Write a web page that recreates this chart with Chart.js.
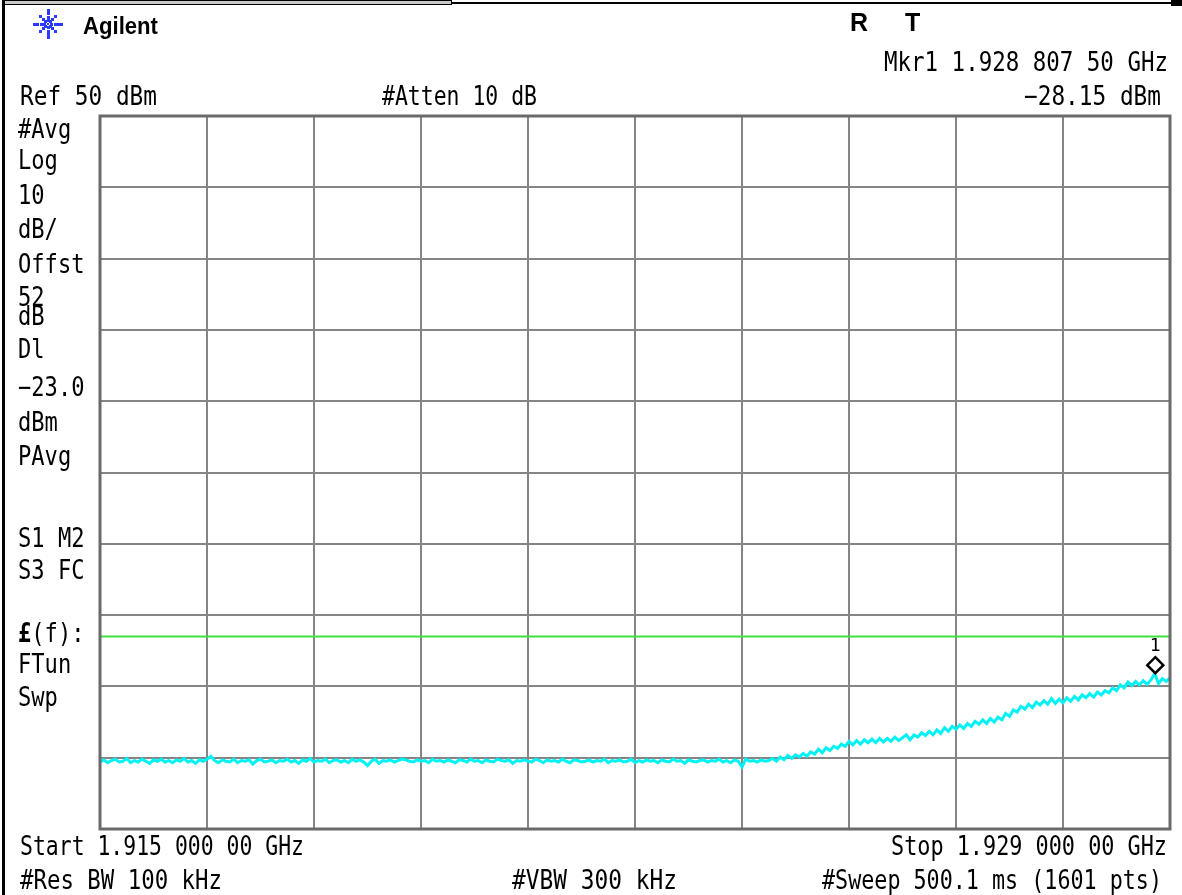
<!DOCTYPE html>
<html>
<head>
<meta charset="utf-8">
<script src="https://cdn.jsdelivr.net/npm/chart.js@4.4.1/dist/chart.umd.min.js"></script>
<style>
html,body{margin:0;padding:0;background:#fff}
body{width:1182px;height:895px;overflow:hidden;position:relative}
#c{position:absolute;left:0;top:0}
.t{position:absolute;white-space:pre;color:#000;font-family:"DejaVu Sans Mono",monospace;font-size:26px;line-height:30px;transform-origin:0 0}
.f{position:absolute;background:#000}
</style>
</head>
<body>
<canvas id="c" width="1182" height="895"></canvas>
<div class="f" style="left:2px;top:0;width:3px;height:895px"></div>
<div class="f" style="left:4px;top:0;width:448px;height:5px;background:#c8c8c8;border:1px solid #000;box-sizing:border-box"></div>
<div class="f" style="left:452px;top:2px;width:720px;height:2px"></div>
<div class="f" style="left:1171px;top:0;width:11px;height:6px"></div>
<script>
// ---- Instrument settings / axis ----
const startGHz = 1.915;
const stopGHz = 1.929;
const refLevelDbm = 50;
const bottomLevelDbm = -50;
const xGridGHz = [1.915,1.9164,1.9178,1.9192,1.9206,1.922,1.9234,1.9248,1.9262,1.9276,1.929];
const yGridDbm = [-50,-40,-30,-20,-10,0,10,20,30,40,50];

// Display line
const displayLineDbm = -23.0;

// Marker 1
const markerGHz = 1.9288075;
const markerDbm = -28.15;
const markerLabel = "1";

// Trace (dBm), evenly spaced across the sweep (start -> stop)
const traceDbm = [
-40.6,-40.3,-40.7,-40.4,-40.2,-40.6,-40.5,-40.1,-40.7,-40.4,-40.6,-40.2,-40.5,-40.8,-40.3,-40.5,
-40.2,-40.6,-40.4,-40.7,-40.3,-40.5,-40.1,-40.6,-40.4,-40.8,-40.3,-40.5,-40.2,-39.8,-40.4,-40.7,
-40.3,-40.5,-40.6,-40.2,-40.7,-40.4,-40.5,-40.3,-40.9,-40.4,-40.2,-40.6,-40.5,-40.3,-40.7,-40.4,
-40.5,-40.2,-40.6,-40.4,-40.8,-40.3,-40.5,-40.1,-40.6,-40.4,-40.5,-40.2,-40.7,-40.4,-40.3,-40.6,
-40.4,-40.7,-40.2,-40.5,-40.3,-40.6,-41.1,-40.5,-40.2,-40.8,-40.4,-40.5,-40.3,-40.6,-40.4,-40.2,
-40.3,-40.5,-40.6,-40.3,-40.5,-40.4,-40.7,-40.2,-40.5,-40.4,-40.6,-40.3,-40.5,-40.7,-40.3,-40.4,
-40.6,-40.2,-40.5,-40.4,-40.7,-40.3,-40.5,-40.6,-40.2,-40.4,-40.5,-40.3,-40.8,-40.4,-40.5,-40.3,
-40.5,-40.6,-40.2,-40.4,-40.7,-40.3,-40.5,-40.4,-40.6,-40.2,-40.5,-40.7,-40.3,-40.4,-40.6,-40.5,
-40.3,-40.6,-40.4,-40.5,-40.2,-40.7,-40.4,-40.5,-40.3,-40.6,-40.5,-40.2,-40.7,-40.4,-40.6,-40.3,
-40.5,-40.4,-40.7,-40.3,-40.5,-40.6,-40.2,-40.5,-40.4,-40.8,-40.3,-40.5,-40.6,-40.4,-40.3,-40.6,
-40.4,-40.5,-40.2,-40.6,-40.4,-40.7,-40.3,-40.5,-41.3,-40.2,-40.5,-40.4,-40.6,-40.3,-40.5,-40.4,
-40.1,-40.5,-39.9,-40.3,-39.7,-40.1,-39.6,-39.9,-39.4,-39.8,-39.2,-39.5,-38.8,-39.3,-38.6,-39.0,
-38.4,-38.7,-38.1,-38.4,-37.7,-38.2,-37.6,-38.1,-37.5,-37.9,-37.4,-37.9,-37.3,-37.8,-37.3,-37.7,
-37.1,-37.6,-37.2,-36.8,-37.5,-36.8,-37.1,-36.5,-36.9,-36.3,-36.8,-36.1,-36.6,-35.8,-36.3,-35.6,
-36.0,-35.4,-35.9,-35.2,-35.6,-34.9,-35.3,-34.7,-35.2,-34.5,-35.0,-34.3,-34.7,-33.8,-34.2,-33.3,
-33.6,-32.8,-33.2,-32.5,-33.0,-32.2,-32.6,-32.0,-32.5,-31.7,-32.4,-31.8,-32.3,-31.6,-32.1,-31.4,
-31.9,-31.2,-31.6,-31.0,-31.5,-30.8,-31.2,-30.6,-30.9,-30.2,-30.6,-29.8,-30.2,-29.4,-29.9,-29.3,
-29.8,-29.2,-29.7,-29.1,-28.2,-29.6,-28.9,-29.3,-28.8
];

const tracePoints = traceDbm.map((v, i) => ({
  x: startGHz + i * (stopGHz - startGHz) / (traceDbm.length - 1),
  y: v
}));

const framePlugin = {
  id: 'frame',
  afterDatasetsDraw(chart) {
    const {ctx, chartArea: a, scales} = chart;
    // plot border
    ctx.save();
    ctx.strokeStyle = '#6a6a6a';
    ctx.lineWidth = 3;
    ctx.strokeRect(a.left, a.top, a.right - a.left, a.bottom - a.top);
    ctx.restore();
    // marker
    const mx = scales.x.getPixelForValue(markerGHz);
    const my = scales.y.getPixelForValue(markerDbm);
    ctx.save();
    ctx.beginPath();
    ctx.moveTo(mx, my - 16);
    ctx.lineTo(mx + 8, my - 8);
    ctx.lineTo(mx, my);
    ctx.lineTo(mx - 8, my - 8);
    ctx.closePath();
    ctx.fillStyle = '#fff';
    ctx.fill();
    ctx.strokeStyle = '#000';
    ctx.lineWidth = 2.5;
    ctx.stroke();
    ctx.fillStyle = '#000';
    ctx.font = '18px "DejaVu Sans Mono", monospace';
    ctx.textAlign = 'center';
    ctx.textBaseline = 'alphabetic';
    ctx.fillText(markerLabel, mx, my - 22);
    ctx.restore();
  },
  afterDraw(chart) {
    // Agilent logo (decorative starburst)
    const ctx = chart.ctx;
    const cx = 48, cy = 24;
    ctx.save();
    ctx.fillStyle = '#2a3cff';
    for (let k = 0; k < 8; k++) {
      const ang = k * Math.PI / 4;
      const rs = (k % 2 === 0) ? [3.5, 7, 10.5, 13.5] : [3.5, 7, 10.5];
      for (const r of rs) {
        const px = cx + Math.cos(ang) * r, py = cy + Math.sin(ang) * r;
        ctx.fillRect(Math.round(px - 1.5), Math.round(py - 1.5), 3, 3);
      }
    }
    ctx.fillRect(cx - 1, cy - 1, 2, 2);
    ctx.restore();
  }
};

new Chart(document.getElementById('c'), {
  type: 'line',
  data: {
    datasets: [
      {
        label: 'Display line',
        data: [{x: startGHz, y: displayLineDbm}, {x: stopGHz, y: displayLineDbm}],
        borderColor: '#3fe03f',
        borderWidth: 2,
        pointRadius: 0
      },
      {
        label: 'Trace',
        data: tracePoints,
        borderColor: '#00f2f2',
        borderWidth: 3,
        pointRadius: 0,
        tension: 0
      }
    ]
  },
  options: {
    responsive: false,
    devicePixelRatio: 1,
    animation: false,
    layout: {padding: {left: 100, top: 116, right: 12, bottom: 66}},
    plugins: {legend: {display: false}, tooltip: {enabled: false}, title: {display: false}},
    scales: {
      x: {
        type: 'linear',
        min: startGHz, max: stopGHz,
        afterBuildTicks(s) { s.ticks = xGridGHz.map(v => ({value: v})); },
        ticks: {display: false},
        grid: {color: '#858585', lineWidth: 2, drawTicks: false, tickLength: 0},
        border: {display: false}
      },
      y: {
        type: 'linear',
        min: bottomLevelDbm, max: refLevelDbm,
        afterBuildTicks(s) { s.ticks = yGridDbm.map(v => ({value: v})); },
        ticks: {display: false},
        grid: {color: '#858585', lineWidth: 2, drawTicks: false, tickLength: 0},
        border: {display: false}
      }
    }
  },
  plugins: [framePlugin]
});

// ---- Screen annotations (text) ----
const texts = [
  {bold: true, size: 23, text: 'Agilent', x: 83, y: 34, w: 75},
  {bold: true, size: 25, text: 'R', x: 850, y: 31},
  {bold: true, size: 25, text: 'T', x: 905, y: 31},
  {text: 'Mkr1 1.928 807 50 GHz', right: 1168, y: 71, w: 284},
  {text: 'Ref 50 dBm', x: 20, y: 105, w: 137},
  {text: '#Atten 10 dB', x: 382, y: 105, w: 155},
  {text: '\u221228.15 dBm', right: 1161, y: 105, w: 137},
  {text: '#Avg', x: 18, y: 138},
  {text: 'Log', x: 18, y: 169},
  {text: '10', x: 18, y: 204},
  {text: 'dB/', x: 18, y: 238},
  {text: 'Offst', x: 18, y: 273},
  {text: '52', x: 18, y: 306},
  {text: 'dB', x: 18, y: 325},
  {text: 'Dl', x: 18, y: 358},
  {text: '\u221223.0', x: 18, y: 396},
  {text: 'dBm', x: 18, y: 431},
  {text: 'PAvg', x: 18, y: 465},
  {text: 'S1 M2', x: 18, y: 547},
  {text: 'S3 FC', x: 18, y: 579},
  {html: '<b>\u00a3</b>(f):', x: 18, y: 642},
  {text: 'FTun', x: 18, y: 673},
  {text: 'Swp', x: 18, y: 706},
  {text: 'Start 1.915 000 00 GHz', x: 20, y: 855, w: 284},
  {text: 'Stop 1.929 000 00 GHz', right: 1167, y: 855, w: 276},
  {text: '#Res BW 100 kHz', x: 20, y: 889, w: 202},
  {text: '#VBW 300 kHz', x: 512, y: 889, w: 165},
  {text: '#Sweep 500.1 ms (1601 pts)', right: 1162, y: 889, w: 340}
];

function place(s) {
  const d = document.createElement('div');
  d.className = 't';
  if (s.bold) {
    d.style.fontFamily = '"Liberation Sans", Arial, sans-serif';
    d.style.fontWeight = 'bold';
    d.style.fontSize = s.size + 'px';
  }
  const inner = document.createElement('span');
  if (s.html) inner.innerHTML = s.html; else inner.textContent = s.text;
  d.appendChild(inner);
  const probe = document.createElement('span');
  probe.style.cssText = 'display:inline-block;width:0;height:0;vertical-align:baseline';
  d.appendChild(probe);
  d.style.left = '0px'; d.style.top = '0px';
  document.body.appendChild(d);
  const base = probe.offsetTop;
  const w = inner.getBoundingClientRect().width;
  const sx = s.w ? s.w / w : (s.bold ? 1 : 0.85);
  const left = (s.right !== undefined) ? s.right - w * sx : s.x;
  d.style.left = left + 'px';
  d.style.top = (s.y - base) + 'px';
  d.style.transform = 'scaleX(' + sx + ')';
}
texts.forEach(place);
</script>
</body>
</html>
